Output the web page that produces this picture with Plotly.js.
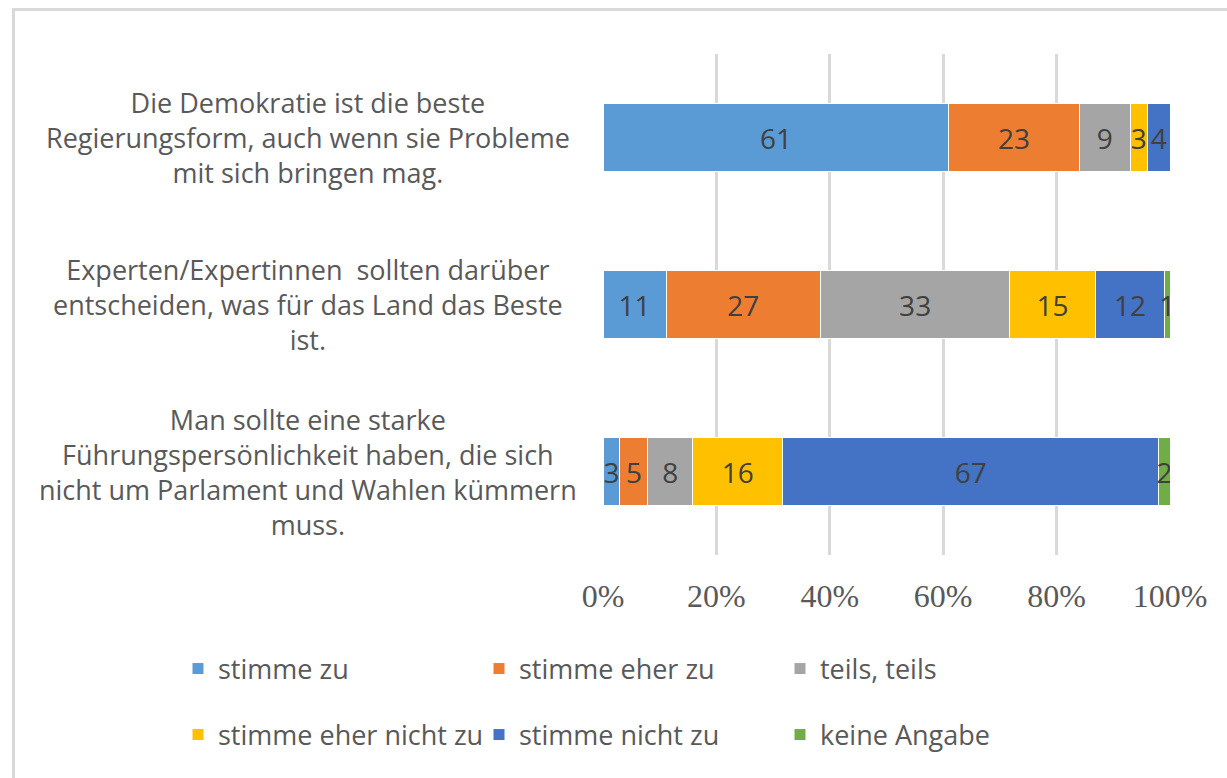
<!DOCTYPE html>
<html>
<head>
<meta charset="utf-8">
<script src="https://cdn.plot.ly/plotly-3.0.1.min.js"></script>
<style>
  html, body { margin: 0; padding: 0; background: #ffffff; }
  #chart { width: 1227px; height: 778px; }
</style>
</head>
<body>
<div id="chart"></div>
<script>
// ---- data ----
var categories = [
  "Die Demokratie ist die beste<br>Regierungsform, auch wenn sie Probleme<br>mit sich bringen mag.",
  "Experten/Expertinnen  sollten darüber<br>entscheiden, was für das Land das Beste<br>ist.",
  "Man sollte eine starke<br>Führungspersönlichkeit haben, die sich<br>nicht um Parlament und Wahlen kümmern<br>muss."
];
var seriesNames = ["stimme zu", "stimme eher zu", "teils, teils", "stimme eher nicht zu", "stimme nicht zu", "keine Angabe"];
var stimmeZu        = [61, 11, 3];
var stimmeEherZu    = [23, 27, 5];
var teilsTeils      = [9, 33, 8];
var stimmeEherNicht = [3, 15, 16];
var stimmeNicht     = [4, 12, 67];
var keineAngabe     = [0, 1, 2];
var tickVals = [0, 20, 40, 60, 80, 100];
var tickLabels = ["0%", "20%", "40%", "60%", "80%", "100%"];

var seriesValues = [stimmeZu, stimmeEherZu, teilsTeils, stimmeEherNicht, stimmeNicht, keineAngabe];
var colors = ["#5B9BD5", "#ED7D31", "#A5A5A5", "#FFC000", "#4472C4", "#70AD47"];

var W = 1227, H = 778;
var L = 603, R = 57, T = 54, B = 223;
var pw = W - L - R, ph = H - T - B;
function px2x(p) { return (p - L) / pw; }
function px2y(p) { return (H - B - p) / ph; }

var sansFont = "Open Sans, Liberation Sans, sans-serif";

var traces = seriesValues.map(function (vals, i) {
  return {
    type: "bar",
    orientation: "h",
    name: seriesNames[i],
    y: categories,
    x: vals,
    text: vals.map(function (v) { return v > 0 ? String(v) : ""; }),
    textposition: "inside",
    insidetextanchor: "middle",
    textangle: 0,
    constraintext: "none",
    textfont: { family: sansFont, size: 28, color: "#404040" },
    marker: { color: colors[i], line: { color: "#ffffff", width: 1 } },
    legend: i < 3 ? "legend" : "legend2",
    hoverinfo: "name+x"
  };
});

var annotations = categories.map(function (c) {
  return {
    xref: "paper", yref: "y",
    x: px2x(308), y: c,
    text: c,
    showarrow: false,
    xanchor: "center", yanchor: "middle",
    align: "center",
    font: { family: sansFont, size: 27, color: "#595959" }
  };
});

var legendCommon = {
  orientation: "h",
  xanchor: "left", yanchor: "middle",
  x: px2x(178),
  entrywidth: 256, entrywidthmode: "pixels",
  font: { family: sansFont, size: 27, color: "#595959" },
  bgcolor: "rgba(0,0,0,0)",
  traceorder: "normal"
};
var legend1 = Object.assign({}, legendCommon, { y: px2y(669) });
var legend2 = Object.assign({}, legendCommon, { y: px2y(735) });

var layout = {
  width: W, height: H,
  margin: { l: L, r: R, t: T, b: B, pad: 0 },
  paper_bgcolor: "#ffffff",
  plot_bgcolor: "#ffffff",
  barmode: "stack",
  barnorm: "percent",
  bargap: 0.59,
  xaxis: {
    range: [0, 100],
    tickvals: tickVals,
    ticktext: tickLabels,
    showgrid: true,
    gridcolor: "#D9D9D9",
    gridwidth: 3,
    zeroline: false,
    showline: false,
    ticks: "",
    ticklabelstandoff: 19,
    tickfont: { family: "Liberation Serif, Times New Roman, serif", size: 32, color: "#595959" },
    fixedrange: true
  },
  yaxis: {
    type: "category",
    autorange: "reversed",
    showticklabels: false,
    showgrid: false,
    zeroline: false,
    showline: false,
    ticks: "",
    fixedrange: true
  },
  showlegend: true,
  legend: legend1,
  legend2: legend2,
  annotations: annotations,
  shapes: [{
    type: "rect", xref: "paper", yref: "paper",
    x0: px2x(13.5), x1: px2x(1240),
    y0: px2y(790), y1: px2y(9.5),
    line: { color: "#D9D9D9", width: 3 },
    fillcolor: "rgba(0,0,0,0)",
    layer: "below"
  }]
};

Plotly.newPlot("chart", traces, layout, { displayModeBar: false, staticPlot: true });
</script>
</body>
</html>
